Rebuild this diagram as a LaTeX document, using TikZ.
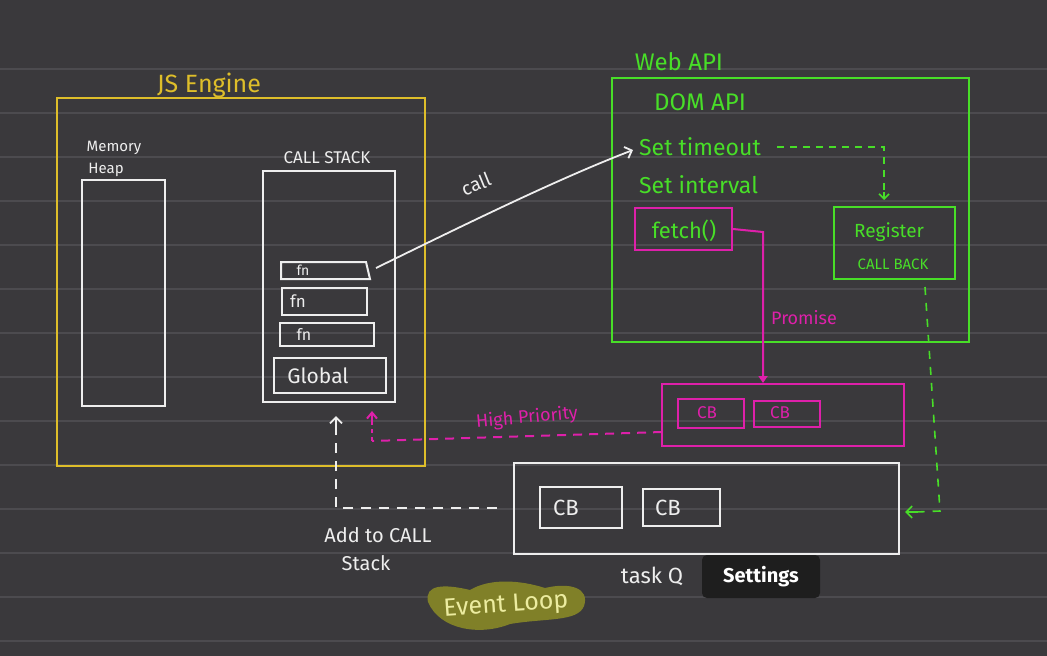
\documentclass[tikz,border=0pt]{standalone}
\usepackage{fontspec}
\setmainfont{Fira Sans}
\usetikzlibrary{arrows.meta}
\definecolor{bgc}{RGB}{58,57,60}
\definecolor{rule}{RGB}{76,75,79}
\definecolor{jsy}{RGB}{222,190,42}
\definecolor{wg}{RGB}{72,222,40}
\definecolor{mg}{RGB}{222,32,170}
\definecolor{wh}{RGB}{238,238,238}
\definecolor{olive}{RGB}{128,128,40}
\definecolor{olivetxt}{RGB}{236,236,160}
\definecolor{tip}{RGB}{30,30,30}
\tikzset{
  box/.style={draw=#1, line width=2pt, minimum width=10pt, inner sep=0pt},
  lbl/.style={text=#1, inner sep=1pt},
  fs/.style={font=\fontsize{#1}{#1}\selectfont},
  barb/.style={-{Straight Barb[length=6pt,width=12pt]}},
}
\begin{document}
\begin{tikzpicture}[x=1pt,y=-1pt]
\fill[bgc] (0,0) rectangle (1047,656);
\useasboundingbox (0,0) rectangle (1047,656);
\foreach \k in {0,...,13} {\draw[rule, line width=1.5pt] (0,69+44*\k) -- (1047,69+44*\k);}

% JS Engine
\node[box=jsy, minimum width=368pt, minimum height=368pt] (js) at (241,282) {};
\node[lbl=jsy, fs=25] (jslbl) at (209,85) {JS Engine};
\node[box=wh, minimum width=83pt, minimum height=226pt] (heap) at (123.5,293) {};
\node[lbl=wh, fs=15] (heaplbl) at (114,148) {Memory};
\node[lbl=wh, fs=15] (heaplbl2) at (106,170) {Heap};
\node[box=wh, minimum width=132pt, minimum height=231pt] (stack) at (329,286.5) {};
\node[lbl=wh, fs=17] (stacklbl) at (327,158) {CALL STACK};
\draw[wh, line width=2pt] (281,262) -- (366,262) -- (370,279) -- (281,279) -- cycle;
\node[minimum width=88pt, minimum height=17pt, inner sep=0pt] (fn1) at (325,270.5) {};
\node[lbl=wh, fs=14] at (303,270) {fn};
\node[box=wh, minimum width=85pt, minimum height=27pt] (fn2) at (324.5,301.5) {};
\node[lbl=wh, fs=17] at (298,301) {fn};
\node[box=wh, minimum width=94pt, minimum height=23pt] (fn3) at (327,334.5) {};
\node[lbl=wh, fs=16] at (304,334) {fn};
\node[box=wh, minimum width=112pt, minimum height=35pt] (glob) at (330,375.5) {};
\node[lbl=wh, fs=21] at (318,376) {Global};

% Web API
\node[box=wg, minimum width=357pt, minimum height=264pt] (web) at (790.5,210) {};
\node[lbl=wg, fs=24] (weblbl) at (679,62) {Web API};
\node[lbl=wg, fs=24] (dom) at (700,102) {DOM API};
\node[lbl=wg, fs=23, anchor=west] (timeout) at (638,147) {Set timeout};
\node[lbl=wg, fs=23, anchor=west] (interval) at (638,185) {Set interval};
\node[box=mg, minimum width=97pt, minimum height=42pt] (fetch) at (683.5,229) {};
\node[lbl=wg, fs=22] at (684,231) {fetch()};
\node[box=wg, minimum width=121pt, minimum height=72pt] (reg) at (894.5,243) {};
\node[lbl=wg, fs=19] at (889,232) {Register};
\node[lbl=wg, fs=15] at (893,264) {CALL BACK};

% microtask queue
\node[box=mg, minimum width=242pt, minimum height=62pt] (micro) at (783,415) {};
\node[box=mg, minimum width=66pt, minimum height=29pt] (mcb1) at (711,413.5) {};
\node[lbl=mg, fs=17] at (707,413) {CB};
\node[box=mg, minimum width=66pt, minimum height=26pt] (mcb2) at (787,414) {};
\node[lbl=mg, fs=17] at (780,413) {CB};
\node[lbl=mg, fs=18] (promise) at (804,318) {Promise};

% task queue
\node[box=wh, minimum width=385pt, minimum height=91pt] (task) at (706.5,508.5) {};
\node[box=wh, minimum width=82pt, minimum height=41pt] (tcb1) at (581,507.5) {};
\node[lbl=wh, fs=22] at (566,508) {CB};
\node[box=wh, minimum width=77pt, minimum height=37pt] (tcb2) at (681.5,507.5) {};
\node[lbl=wh, fs=22] at (668,508) {CB};
\node[lbl=wh, fs=22] (tasklbl) at (652,576) {task Q};

% call arrow
\coordinate (cstart) at (376,268);
\coordinate (cend) at (633,150);
\draw[wh, line width=1.8pt, barb] (cstart) .. controls (470,222) and (560,178) .. (cend);
\node[lbl=wh, fs=19, rotate=22] (calllbl) at (476,184) {call};

% set timeout -> register
\coordinate (tstart) at (777,147);
\coordinate (tcorner) at (884,147);
\coordinate (regtop) at (884,196);
\draw[wg, line width=1.6pt, dash pattern=on 7pt off 6pt] (tstart) -- (tcorner) -- (regtop);
\draw[wg, line width=1.6pt, -{Straight Barb[length=5pt,width=10pt]}] (884,192) -- (884,200);

% fetch -> microtask
\coordinate (pcorner) at (763,232);
\draw[mg, line width=2pt, -{Triangle[length=7pt,width=9pt]}] (fetch.east) -- (pcorner) -- (pcorner |- micro.north);

% high priority
\coordinate (hpstart) at (662,432);
\coordinate (hpcorner) at (372,441);
\coordinate (hptip) at (372,411);
\node[lbl=mg, fs=18, rotate=5] (hplbl) at (527,418) {High Priority};
\draw[mg, line width=2pt, dash pattern=on 9pt off 7pt] (hpstart) -- (hpcorner);
\draw[mg, line width=2pt, dash pattern=on 4pt off 4pt] (hpcorner) -- (372,420);
\draw[mg, line width=2pt, -{Straight Barb[length=6pt,width=10pt]}] (372,421) -- (hptip);

% task -> call stack
\coordinate (astart) at (497,508);
\coordinate (acorner) at (336,508);
\coordinate (atip) at (336,416);
\draw[wh, line width=1.8pt, dash pattern=on 10pt off 8pt] (astart) -- (acorner) -- (336,428);
\draw[wh, line width=1.8pt, barb] (336,430) -- (atip);
\node[lbl=wh, fs=20] (addlbl) at (378,535) {Add to CALL};
\node[lbl=wh, fs=20] (addlbl2) at (366,563) {Stack};

% register -> task queue
\coordinate (rstart) at (925,287);
\coordinate (rcorner) at (940,511);
\coordinate (rtip) at (905,512);
\draw[wg, line width=1.6pt, dash pattern=on 8pt off 8pt] (rstart) -- (rcorner) -- (916,512);
\draw[wg, line width=1.6pt, barb] (918,512) -- (rtip);

% Event loop highlight
\fill[olive] (428,602) .. controls (424,584) and (445,584) .. (470,590)
  .. controls (490,578) and (520,580) .. (545,588)
  .. controls (570,582) and (590,588) .. (584,606)
  .. controls (578,622) and (545,618) .. (510,624)
  .. controls (480,636) and (440,630) .. (428,602) -- cycle;
\node[lbl=olivetxt, fs=25, rotate=4] (evloop) at (506,606) {Event Loop};

% tooltip
\node[fill=tip, rounded corners=5pt, minimum width=118pt, minimum height=43pt, text=white, font=\fontsize{20}{20}\selectfont\bfseries] (settings) at (761,576.5) {Settings};
\end{tikzpicture}
\end{document}
